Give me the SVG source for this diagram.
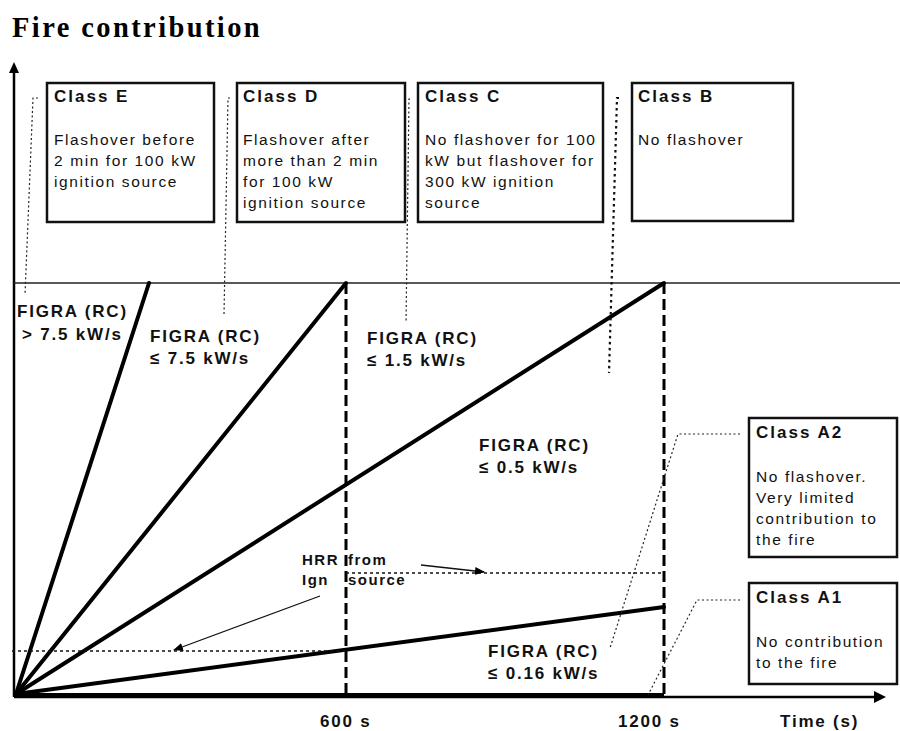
<svg xmlns="http://www.w3.org/2000/svg" width="900" height="731" viewBox="0 0 900 731">
<defs>
<style>
.title{font-family:"Liberation Serif","Times New Roman",serif;font-weight:bold;font-size:28.5px;letter-spacing:2.4px;fill:#000}
.h{font-family:"Liberation Sans",Arial,sans-serif;font-weight:bold;font-size:17px;letter-spacing:2px;fill:#111}
.b{font-family:"Liberation Sans",Arial,sans-serif;font-size:15.5px;letter-spacing:1.6px;fill:#111}
.f{font-family:"Liberation Sans",Arial,sans-serif;font-weight:bold;font-size:17px;letter-spacing:1.8px;fill:#111}
.box{fill:#fff;stroke:#111;stroke-width:2.5}
.slope{stroke:#000;stroke-width:4;fill:none;stroke-linecap:round}
.dash{stroke:#000;stroke-width:3;stroke-dasharray:11 5;fill:none}
.dot{stroke:#222;stroke-width:1.2;stroke-dasharray:2 2.5;fill:none}
.dot2{stroke:#111;stroke-width:1.3;stroke-dasharray:3 3;fill:none}
.thin{stroke:#111;stroke-width:1.3;fill:none}
</style>
<marker id="ah" viewBox="0 0 10 10" refX="9" refY="5" markerWidth="10" markerHeight="10" markerUnits="userSpaceOnUse" orient="auto">
<path d="M0,1 L10,5 L0,9 Z" fill="#000"/>
</marker>
</defs>
<rect width="900" height="731" fill="#fff"/>
<text class="title" x="12" y="37">Fire contribution</text>

<g id="axes">
<line x1="14" y1="697" x2="14" y2="72" stroke="#000" stroke-width="2.5"/>
<path d="M14,62 L9,73 L19,73 Z" fill="#000"/>
<line x1="14" y1="697" x2="876" y2="697" stroke="#000" stroke-width="2.5"/>
<path d="M886,697 L874,691 L874,703 Z" fill="#000"/>
<line x1="14" y1="283" x2="900" y2="283" stroke="#222" stroke-width="1.5"/>
<text class="f" x="320" y="727">600 s</text>
<text class="f" x="618" y="727">1200 s</text>
<text class="f" x="780" y="727">Time (s)</text>
</g>

<g id="connectors">
<line class="slope" x1="16" y1="694" x2="149" y2="283"/>
<line class="slope" x1="16" y1="694" x2="346" y2="283"/>
<line class="slope" x1="16" y1="694" x2="664" y2="283"/>
<line class="slope" x1="16" y1="694" x2="664" y2="607"/>
<line x1="16" y1="695" x2="664" y2="695" stroke="#000" stroke-width="4"/>
<line class="dash" x1="346" y1="283" x2="346" y2="697"/>
<line class="dash" x1="664" y1="283" x2="664" y2="697"/>
<polyline class="dot" points="38,98 33,98 25,295"/>
<polyline class="dot" points="230,98 228,98 224,315"/>
<polyline class="dot" points="410,99 409,99 406,323"/>
<polyline points="619,98 617,98 609,373" fill="none" stroke="#111" stroke-width="2.2" stroke-dasharray="2.5 3.5"/>
<polyline class="dot" points="740,434 678,434 610,648"/>
<polyline class="dot" points="740,600 697,600 648,695"/>
<line class="dot2" x1="12" y1="651" x2="346" y2="651"/>
<line class="dot2" x1="346" y1="573" x2="664" y2="573"/>
<line class="thin" x1="320" y1="596" x2="174" y2="650" marker-end="url(#ah)"/>
<line class="thin" x1="421" y1="565" x2="484" y2="572" marker-end="url(#ah)"/>
</g>

<g id="classE">
<rect class="box" x="47" y="83" width="167" height="139"/>
<text class="h" x="54" y="102">Class E</text>
<text class="b" x="54" y="145">Flashover before</text>
<text class="b" x="54" y="166">2 min for 100 kW</text>
<text class="b" x="54" y="187">ignition source</text>
</g>
<g id="classD">
<rect class="box" x="237" y="83" width="168" height="139"/>
<text class="h" x="243" y="102">Class D</text>
<text class="b" x="243" y="145">Flashover after</text>
<text class="b" x="243" y="166">more than 2 min</text>
<text class="b" x="243" y="187">for 100 kW</text>
<text class="b" x="243" y="208">ignition source</text>
</g>
<g id="classC">
<rect class="box" x="418" y="83" width="185" height="139"/>
<text class="h" x="425" y="102">Class C</text>
<text class="b" x="425" y="145">No flashover for 100</text>
<text class="b" x="425" y="166">kW but flashover for</text>
<text class="b" x="425" y="187">300 kW ignition</text>
<text class="b" x="425" y="208">source</text>
</g>
<g id="classB">
<rect class="box" x="632" y="83" width="161" height="138"/>
<text class="h" x="638" y="102">Class B</text>
<text class="b" x="638" y="145">No flashover</text>
</g>
<g id="classA2">
<rect class="box" x="749" y="418" width="148" height="139"/>
<text class="h" x="756" y="438">Class A2</text>
<text class="b" x="756" y="482">No flashover.</text>
<text class="b" x="756" y="503">Very limited</text>
<text class="b" x="756" y="524">contribution to</text>
<text class="b" x="756" y="545">the fire</text>
</g>
<g id="classA1">
<rect class="box" x="749" y="583" width="148" height="101"/>
<text class="h" x="756" y="603">Class A1</text>
<text class="b" x="756" y="647">No contribution</text>
<text class="b" x="756" y="668">to the fire</text>
</g>

<g id="labels">
<text class="f" x="17" y="317">FIGRA (RC)</text>
<text class="f" x="22" y="340">&gt; 7.5 kW/s</text>
<text class="f" x="150" y="342">FIGRA (RC)</text>
<text class="f" x="150" y="364">≤ 7.5 kW/s</text>
<text class="f" x="367" y="344">FIGRA (RC)</text>
<text class="f" x="367" y="366">≤ 1.5 kW/s</text>
<text class="f" x="479" y="451">FIGRA (RC)</text>
<text class="f" x="479" y="473">≤ 0.5 kW/s</text>
<text class="f" x="488" y="657">FIGRA (RC)</text>
<text class="f" x="488" y="679">≤ 0.16 kW/s</text>
<text class="f" x="302" y="565" style="font-size:15px;letter-spacing:1.5px">HRR</text>
<text class="f" x="302" y="585" style="font-size:15px;letter-spacing:1.5px">Ign</text>
<text class="f" x="348" y="565" style="font-size:15px;letter-spacing:1.5px">from</text>
<text class="f" x="348" y="585" style="font-size:15px;letter-spacing:1.5px">source</text>
</g>
</svg>
